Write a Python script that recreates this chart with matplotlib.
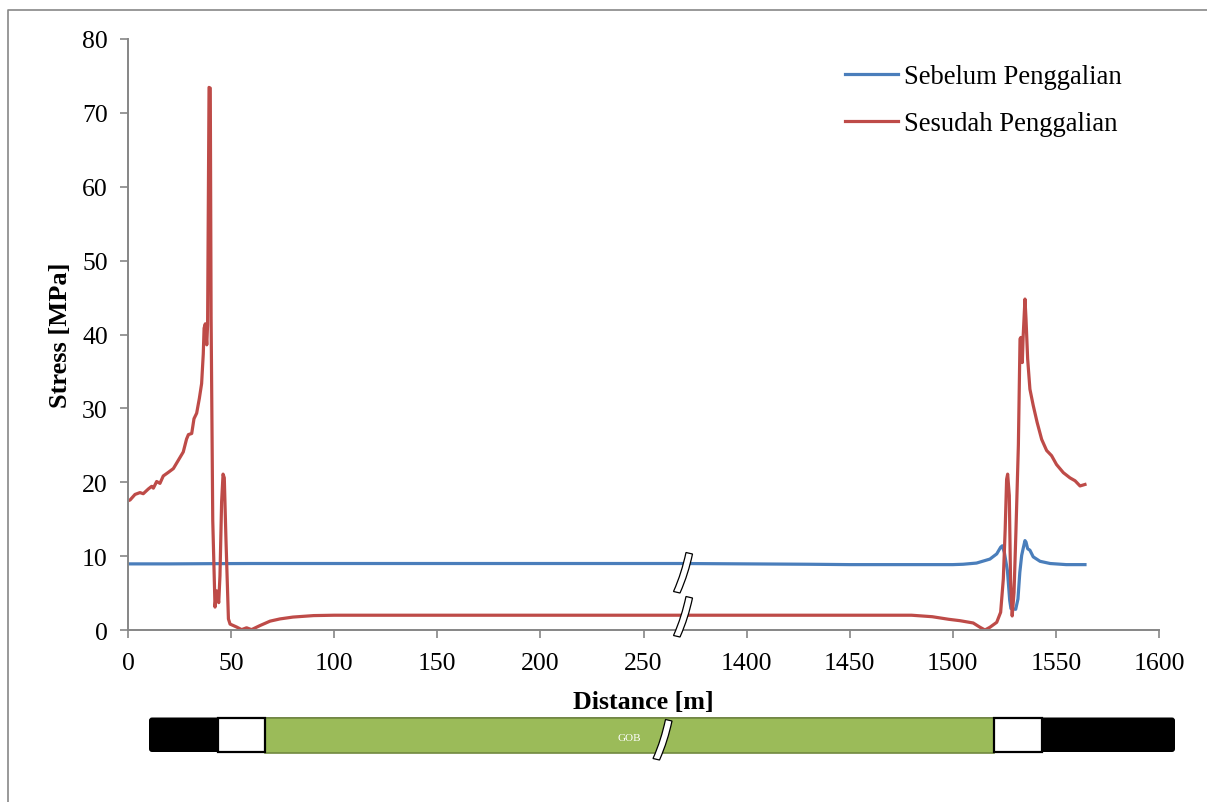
import numpy as np
import matplotlib
matplotlib.use("Agg")
import matplotlib.pyplot as plt
from matplotlib.patches import Rectangle, FancyBboxPatch, PathPatch
from matplotlib.path import Path
from matplotlib.lines import Line2D

plt.rcParams['font.family'] = ['Liberation Serif', 'DejaVu Serif']

# ---- data -------------------------------------------------------------
# distance along the panel [m] and vertical stress [MPa]
sebelum_dist = [0, 20, 40, 60, 100, 150, 200, 250, 269,
                1369, 1400, 1430, 1450, 1480, 1500, 1505, 1511.5, 1518, 1521.3,
                1523.2, 1524.0, 1525.0, 1526.5, 1527.6, 1528.2, 1530.5, 1531.6,
                1532.5, 1533.4, 1534.1, 1535.0, 1535.5, 1536.3, 1537.4, 1539.0,
                1542.3, 1547.2, 1555, 1564.1]
sebelum_val = [8.95, 8.95, 8.98, 9.0, 9.0, 9.0, 9.0, 9.0, 9.0,
               9.0, 8.95, 8.9, 8.85, 8.85, 8.85, 8.9, 9.06, 9.6, 10.3,
               11.2, 11.4, 10.5, 8.0, 4.0, 2.9, 2.8, 4.2,
               7.8, 10.1, 11.0, 12.1, 11.9, 11.0, 10.8, 9.9,
               9.3, 9.0, 8.85, 8.85]

sesudah_dist = [0, 1.0, 3.4, 5.8, 7.4, 9.9, 11.5, 12.3, 13.9, 15.5, 17.1, 19.6,
                22.0, 23.6, 25.2, 26.8, 28.4, 29.3, 30.9, 32.0, 33.3, 34.6, 35.7,
                36.5, 36.9, 37.5, 38.2, 38.6, 39.3, 39.9, 40.3, 41.1, 42.2, 43.0,
                44.0, 44.6, 45.4, 46.1, 46.7, 47.5, 48.7, 49.5, 52.7, 55.1, 57.5,
                59.9, 64.0, 68.9, 73.7, 80, 90, 100, 150, 200, 269,
                1369, 1450, 1480, 1490, 1498, 1503.5, 1509.9, 1513.2, 1515.6,
                1518, 1521.3, 1523.2, 1524.5, 1525.4, 1526.1, 1526.6, 1527.4,
                1528.0, 1528.8, 1529.7, 1530.6, 1531.8, 1532.6, 1533.0, 1533.7,
                1534.1, 1535.0, 1535.5, 1536.3, 1537.4, 1539.0, 1540.9, 1543.1,
                1545.5, 1547.9, 1550.3, 1553.6, 1556.8, 1559.3, 1561.7, 1564.1]
sesudah_val = [17.5, 17.6, 18.35, 18.6, 18.45, 19.1, 19.45, 19.2, 20.1, 19.85, 20.85, 21.35,
               21.85, 22.6, 23.35, 24.1, 25.85, 26.45, 26.6, 28.6, 29.35, 31.35, 33.35,
               37.35, 40.85, 41.45, 38.6, 41.35, 73.45, 73.35, 42.35, 14.85, 3.1, 5.3,
               3.7, 7.35, 17.35, 21.1, 20.6, 12.35, 1.5, 0.8, 0.4, 0.05, 0.3,
               0.05, 0.6, 1.2, 1.5, 1.75, 1.95, 2.0, 2.0, 2.0, 2.0,
               2.0, 2.0, 2.0, 1.8, 1.45, 1.26, 0.95, 0.37, 0.0,
               0.37, 1.04, 2.4, 6.9, 13.6, 20.4, 21.1, 18.2,
               6.9, 1.9, 5.1, 13.2, 25.0, 39.4, 39.6, 36.2,
               39.6, 44.8, 42.1, 36.7, 32.6, 30.4, 28.1, 25.8,
               24.3, 23.6, 22.4, 21.3, 20.6, 20.2, 19.5, 19.7]

x_tick_values = [0, 50, 100, 150, 200, 250, 1400, 1450, 1500, 1550, 1600]
y_tick_values = [0, 10, 20, 30, 40, 50, 60, 70, 80]
series_names = ["Sebelum Penggalian", "Sesudah Penggalian"]

# the axis is broken: everything beyond the gap is shifted left by GAP metres
GAP = 1100.0


def to_axis(d):
    d = np.asarray(d, dtype=float)
    return np.where(d < 1000, d, d - GAP)


W, H = 1207, 803
fig = plt.figure(figsize=(W / 100, H / 100), dpi=100)
ax = fig.add_axes([128 / W, 1 - 631 / H, (1159 - 128) / W, (631 - 40) / H])

BLUE = "#4A7EBB"
RED = "#BE4B48"
GREY = "#868686"

ax.plot(to_axis(sebelum_dist), sebelum_val, color=BLUE, lw=2.3,
        solid_joinstyle="round", label=series_names[0])
ax.plot(to_axis(sesudah_dist), sesudah_val, color=RED, lw=2.3,
        solid_joinstyle="round", label=series_names[1])

ax.set_xlim(0, 1600 - GAP)
ax.set_ylim(0, 80)
ax.set_xticks(to_axis(x_tick_values))
ax.set_xticklabels([str(v) for v in x_tick_values])
ax.set_yticks(y_tick_values)
ax.set_yticklabels([str(v) for v in y_tick_values])

for side in ("top", "right"):
    ax.spines[side].set_visible(False)
for side in ("left", "bottom"):
    ax.spines[side].set_color(GREY)
    ax.spines[side].set_linewidth(1.4)
ax.tick_params(axis="both", colors=GREY, labelcolor="black", labelsize=18.5,
               length=5.5, width=1.2, direction="out")
ax.tick_params(axis="x", pad=10.5)
ax.tick_params(axis="y", pad=9)

ax.set_xlabel("Distance [m]", fontsize=18.7, fontweight="bold")
ax.xaxis.label.set_va("center")
ax.xaxis.set_label_coords(0.5, -(703 - 631) / 591)
ax.set_ylabel("Stress [MPa]", fontsize=19, fontweight="bold")
ax.yaxis.label.set_va("center")
ax.yaxis.label.set_rotation_mode("default")
ax.yaxis.set_label_coords((60 - 128) / 1031, (631 - 335) / 591)

ax.legend(loc="upper left", bbox_to_anchor=(845 / W, 1 - 65 / H),
          bbox_transform=fig.transFigure, frameon=False, fontsize=19.2,
          borderpad=0, borderaxespad=0, handlelength=2.0, handletextpad=0.2,
          labelspacing=0.82)

# ---- overlay in pixel coordinates: frame, panel sketch, break marks ------
ov = fig.add_axes([0, 0, 1, 1])
ov.set_xlim(0, W)
ov.set_ylim(H, 0)
ov.axis("off")
ov.set_zorder(5)

# outer frame (left and top edges)
ov.add_line(Line2D([8, 8, W], [H, 10.5, 10.5], color="#878787", lw=1.2))

# panel sketch below the axis
bar_top, bar_bot = 718.5, 753
ov.add_patch(FancyBboxPatch((149, bar_top), 1175 - 149, bar_bot - bar_top,
                            boxstyle="round,pad=0,rounding_size=3",
                            fc="black", ec="black", lw=0))
ov.add_patch(Rectangle((265, bar_top), 994 - 265, bar_bot - bar_top + 1,
                       fc="#9BBB59", ec="#71893F", lw=1.2))
for x0, x1 in ((217.5, 264.6), (994, 1041.5)):
    ov.add_patch(Rectangle((x0, bar_top + 0.5), x1 - x0, bar_bot - bar_top - 0.5,
                           fc="white", ec="black", lw=1.6))
ov.text(629, 739, "GOB", color="white", fontsize=8, ha="center", va="center")


def break_mark(xc, yc, h=39, slant=12.5, w=6.5):
    """Slanted white strip with a slight S bend, centred at (xc, yc)."""
    x_top, x_bot = xc + slant / 2, xc - slant / 2
    y_top, y_bot = yc - h / 2, yc + h / 2
    verts = [
        (x_bot - w / 2, y_bot),
        (x_bot - w / 2 + 6, y_bot - h * 0.35), (x_top - w / 2 - 3, y_top + h * 0.35),
        (x_top - w / 2, y_top),
        (x_top + w / 2, y_top + 1.5),
        (x_top + w / 2 - 3, y_top + h * 0.35 + 1.5), (x_bot + w / 2 + 6, y_bot - h * 0.35 + 1.5),
        (x_bot + w / 2, y_bot + 1.5),
        (x_bot - w / 2, y_bot),
    ]
    codes = [Path.MOVETO, Path.CURVE4, Path.CURVE4, Path.CURVE4, Path.LINETO,
             Path.CURVE4, Path.CURVE4, Path.CURVE4, Path.CLOSEPOLY]
    ov.add_patch(PathPatch(Path(verts, codes), fc="white", ec="black", lw=0.9))


break_mark(683, 573)
break_mark(683, 617)
break_mark(662.5, 740, h=39, slant=12.5)

fig.savefig("out.png", dpi=100)
